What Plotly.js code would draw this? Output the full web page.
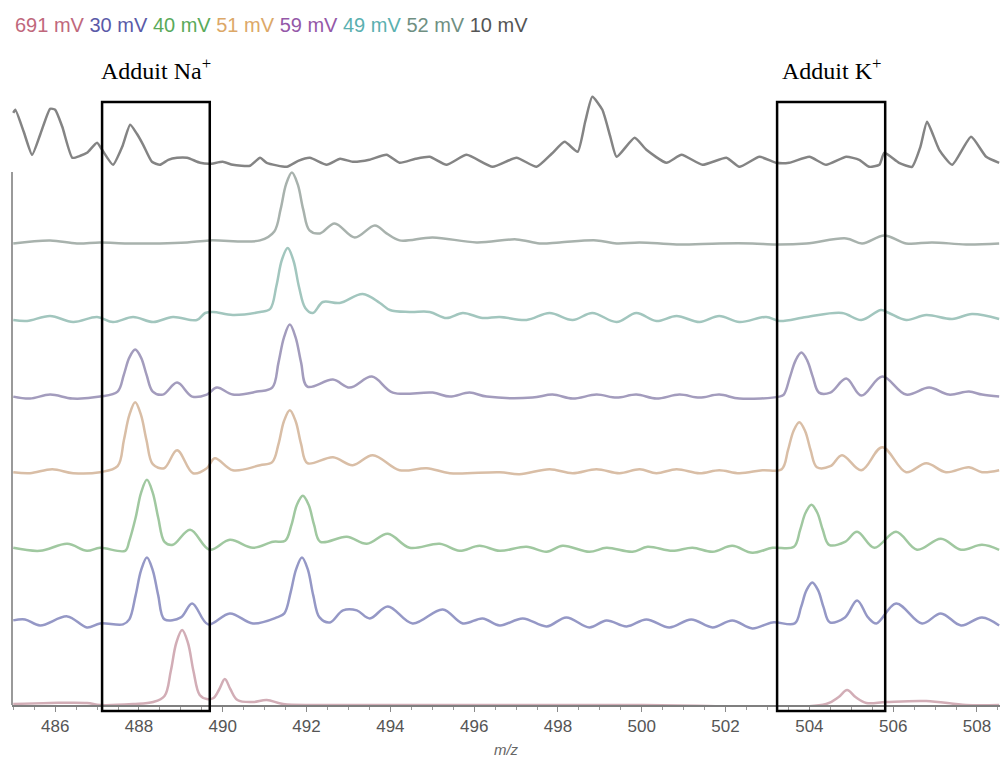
<!DOCTYPE html>
<html>
<head>
<meta charset="utf-8">
<script src="https://cdn.plot.ly/plotly-3.0.1.min.js"></script>
<style>html,body{margin:0;padding:0;background:#fff;}#chart{width:1001px;height:758px;}</style>
</head>
<body>
<div id="chart"></div>
<script>
// ---- data (m/z, relative intensity) ----
const seriesNames = ["691 mV", "30 mV", "40 mV", "51 mV", "59 mV", "49 mV", "52 mV", "10 mV"];

const mz691 = [485.00,485.88,486.76,487.07,487.86,488.34,488.61,488.76,488.89,489.03,
               489.17,489.30,489.45,489.62,489.78,489.92,490.05,490.18,490.35,490.72,
               491.05,491.44,492.25,496.00,500.00,504.40,504.70,504.90,505.10,505.36,
               505.83,506.79,507.74,508.53];
const int691 = [1,2,2,0,1,3,9,34,62,75,
                62,34,10,6,7,16,26,16,5,3,
                5,1,0,0,0,1,8,15,8,2,
                3,4,0,0];

const mz30 = [485.00,485.28,485.64,486.29,486.76,487.07,487.62,487.77,487.92,488.05,
              488.19,488.33,488.46,488.61,489.00,489.27,489.65,490.17,490.72,491.29,
              491.47,491.62,491.75,491.89,492.03,492.16,492.31,492.56,492.87,493.20,
              493.51,493.94,494.53,495.25,495.73,496.20,496.61,497.16,497.73,498.20,
              498.75,499.16,499.64,500.11,500.66,501.18,501.69,502.16,502.64,503.12,
              503.65,503.80,503.93,504.07,504.21,504.34,504.49,504.85,505.14,505.40,
              505.60,506.07,506.69,507.14,507.62,508.12,508.53];
const int30 = [7,8,2,11,0,4,3,8,32,57,
               70,57,32,8,10,24,3,14,4,10,
               14,35,58,70,58,32,10,5,17,17,
               9,21,4,18,4,9,2,9,1,10,
               0,7,1,8,0,8,0,7,-1,5,
               4,20,37,45,37,20,5,10,27,10,
               4,24,4,14,2,10,2];

const mz40 = [485.00,485.64,486.29,486.76,487.07,487.67,487.77,487.92,488.05,488.19,
              488.33,488.46,488.61,488.81,489.22,489.69,490.17,490.72,491.20,491.49,
              491.64,491.77,491.91,492.05,492.18,492.33,492.96,493.44,493.94,494.46,
              495.18,495.65,496.13,496.61,497.25,497.73,498.11,498.75,499.16,499.78,
              500.14,500.73,501.21,501.69,502.16,502.64,503.12,503.63,503.78,503.91,
              504.05,504.19,504.32,504.47,504.85,505.14,505.55,506.07,506.57,507.14,
              507.62,508.12,508.53];
const int40 = [2,-1,6,-1,2,-1,9,32,57,70,
               57,32,8,5,20,0,10,2,8,9,
               25,45,54,45,25,8,13,6,16,2,
               6,-1,4,-1,3,-2,4,-2,2,-2,
               3,-1,2,-2,4,-3,2,3,20,37,
               45,37,20,5,8,18,2,18,0,11,
               0,5,0];

const mz51 = [485.00,485.40,485.93,486.43,487.07,487.49,487.64,487.77,487.91,488.05,
              488.18,488.33,488.60,488.91,489.29,489.62,489.81,490.24,490.89,491.18,
              491.33,491.46,491.60,491.74,491.87,492.02,492.63,493.10,493.58,494.22,
              494.87,495.42,496.61,497.08,497.80,498.35,498.92,499.47,499.95,500.35,
              500.83,501.38,501.85,502.33,502.88,503.34,503.49,503.62,503.76,503.90,
              504.03,504.18,504.50,504.78,505.24,505.74,506.31,506.79,507.26,507.81,
              508.12,508.53];
const int51 = [0,-1,3,-1,0,6,32,57,70,57,
               32,8,4,22,-1,4,14,2,7,10,
               28,51,62,51,28,9,15,7,17,2,
               4,-1,0,-2,3,-1,3,-1,3,-1,
               3,-1,2,-1,2,3,22,41,50,41,
               22,5,6,17,2,25,0,9,0,5,
               0,2];

const mz59 = [485.00,485.40,485.88,486.41,487.07,487.49,487.64,487.77,487.91,488.05,
              488.18,488.33,488.57,488.91,489.27,489.62,489.86,490.24,490.82,491.18,
              491.33,491.46,491.60,491.74,491.87,492.02,492.63,493.03,493.56,494.06,
              495.01,495.42,495.89,496.30,497.39,497.87,498.35,498.92,499.40,499.87,
              500.35,500.90,501.38,501.85,502.33,503.28,503.39,503.54,503.67,503.81,
              503.95,504.08,504.23,504.50,504.88,505.24,505.74,506.31,506.86,507.33,
              507.81,508.12,508.53];
const int59 = [-2,-4,0,-4,-2,3,20,37,45,37,
               20,3,0,12,-2,0,7,0,3,7,
               32,57,70,57,32,8,15,7,18,2,
               2,-2,2,-2,-3,0,-4,0,-3,0,
               -4,0,-3,0,-4,-2,0,18,34,42,
               34,18,2,2,16,-1,18,0,7,0,
               3,0,-2];

const mz49 = [485.00,485.33,485.88,486.43,487.00,487.38,487.86,488.34,488.81,489.38,
              489.58,489.77,490.24,490.89,491.13,491.28,491.41,491.55,491.69,491.82,
              491.97,492.15,492.39,492.79,493.34,493.75,493.99,494.46,494.94,495.34,
              495.73,496.20,496.61,497.25,497.80,498.35,498.82,499.40,499.87,500.35,
              500.83,501.38,501.85,502.33,502.97,503.28,503.93,504.78,505.24,505.71,
              505.90,506.31,506.79,507.41,507.88,508.53];
const int49 = [-3,-4,1,-5,0,-5,0,-5,0,-3,
               4,5,2,5,8,31,57,69,56,30,
               9,4,15,14,23,14,7,5,5,-1,
               4,-1,0,-3,4,-3,4,-5,4,-4,
               1,-5,1,-5,0,-4,0,4,-3,7,
               4,-3,2,-2,3,-2];

const mz52 = [485.00,485.88,486.52,487.07,487.72,488.50,489.15,489.69,490.89,491.23,
              491.38,491.51,491.65,491.79,491.92,492.07,492.32,492.67,493.15,493.63,
              493.91,494.22,495.01,496.06,497.01,497.56,498.04,498.92,499.40,499.95,
              500.83,501.85,502.64,503.21,503.93,504.88,505.26,505.79,506.31,506.93,
              507.74,508.53];
const int52 = [-4,-1,-4,-3,-4,-4,-3,-1,-1,8,
               30,55,67,55,30,9,6,16,2,14,
               6,-1,2,-3,0,-4,-3,-1,-4,-3,
               -5,-4,-4,-5,-4,1,-4,4,-4,-3,
               -5,-4];

const mz10 = [485.00,485.05,485.25,485.45,485.65,485.88,486.00,486.17,486.41,486.60,
              486.76,487.00,487.12,487.38,487.60,487.79,487.95,488.10,488.31,488.50,
              488.70,488.91,489.15,489.46,489.69,490.00,490.24,490.65,490.89,491.05,
              491.53,491.80,492.08,492.48,492.80,493.10,493.50,493.91,494.22,494.60,
              494.94,495.34,495.82,496.44,497.01,497.49,497.85,498.16,498.47,498.65,
              498.82,499.06,499.25,499.40,499.83,500.11,500.59,500.95,501.45,502.02,
              502.33,502.81,503.21,503.52,504.00,504.40,504.88,505.19,505.43,505.67,
              505.79,506.14,506.45,506.65,506.81,507.10,507.41,507.86,508.22,508.53];
const int10 = [49,52,30,7,28,53,52,35,4,6,
               9,19,12,-3,15,37,28,17,0,-3,
               2,4,4,-1,-2,0,-3,-4,4,-1,
               -5,1,4,-3,3,0,2,7,-1,3,
               5,-3,7,-5,4,-5,8,20,10,40,
               65,52,25,5,24,12,-1,7,-3,4,
               -5,5,-1,-1,5,-3,5,2,-5,-3,
               9,-1,-5,15,40,12,-3,25,5,-1];

const boxNa = [487.12, 489.69];
const boxK  = [503.23, 505.81];

// ---- styling ----
const lineColors = ["#d2adb6", "#9598c6", "#a0c8a0", "#d9bea6", "#a39cbd", "#a2c6be", "#a8b2ad", "#848484"];
const labelColors = ["#c0687c", "#5a5aa8", "#5aaa5a", "#dca868", "#9458a8", "#5ab0b0", "#6f8f82", "#555555"];
const stackGap = 77.6;

const allMz = [mz691, mz30, mz40, mz51, mz59, mz49, mz52, mz10];
const allInt = [int691, int30, int40, int51, int59, int49, int52, int10];

const traces = allMz.map((mz, i) => ({
  type: "scatter",
  mode: "lines",
  name: seriesNames[i],
  x: mz,
  y: allInt[i].map(v => v + i * stackGap),
  line: {color: lineColors[i], width: 2.5, shape: "spline", smoothing: i === 7 ? 0.5 : 1},
  hoverinfo: "skip",
  showlegend: false
}));

const legendText = seriesNames.map((n, i) => `<span style="color:${labelColors[i]}">${n}</span>`).join(" ");

const layout = {
  width: 1001, height: 758,
  margin: {l: 12, r: 1, t: 80, b: 53},
  paper_bgcolor: "#ffffff", plot_bgcolor: "#ffffff",
  showlegend: false,
  xaxis: {
    range: [484.97, 508.55],
    tick0: 486, dtick: 2,
    showgrid: false, zeroline: false,
    showline: true, linecolor: "#7f7f7f", linewidth: 2,
    ticks: "outside", ticklen: 5, tickcolor: "#8a8a8a", tickwidth: 1,
    minor: {dtick: 0.5, ticks: "outside", ticklen: 3, tickcolor: "#9a9a9a", showgrid: false},
    tickfont: {family: "Liberation Sans, Arial, sans-serif", size: 17, color: "#555555"},
    title: {text: "<i>m/z</i>", font: {family: "Liberation Sans, Arial, sans-serif", size: 15, color: "#666666"}, standoff: 10}
  },
  yaxis: {
    range: [0, 625],
    showgrid: false, zeroline: false, showline: false,
    showticklabels: false, ticks: ""
  },
  shapes: [
    {type: "line", xref: "paper", yref: "paper", x0: 0, x1: 0, y0: 0, y1: (705 - 172) / 625,
     line: {color: "#9a9a9a", width: 2}},
    {type: "rect", xref: "x", yref: "paper", x0: boxNa[0], x1: boxNa[1], y0: -6 / 625, y1: 603 / 625,
     line: {color: "#000000", width: 2.5}, fillcolor: "rgba(0,0,0,0)"},
    {type: "rect", xref: "x", yref: "paper", x0: boxK[0], x1: boxK[1], y0: -6 / 625, y1: 603 / 625,
     line: {color: "#000000", width: 2.5}, fillcolor: "rgba(0,0,0,0)"}
  ],
  annotations: [
    {text: legendText, xref: "paper", yref: "paper", x: 1 / 988, y: (705 - 25) / 625,
     xanchor: "left", yanchor: "middle", showarrow: false,
     font: {family: "Liberation Sans, Arial, sans-serif", size: 20}},
    {text: "Adduit Na<sup>+</sup>", xref: "x", yref: "paper", x: (boxNa[0] + boxNa[1]) / 2, y: (705 - 86) / 625,
     xanchor: "center", yanchor: "bottom", showarrow: false,
     font: {family: "Liberation Serif, Times New Roman, serif", size: 24, color: "#000000"}},
    {text: "Adduit K<sup>+</sup>", xref: "x", yref: "paper", x: (boxK[0] + boxK[1]) / 2, y: (705 - 86) / 625,
     xanchor: "center", yanchor: "bottom", showarrow: false,
     font: {family: "Liberation Serif, Times New Roman, serif", size: 24, color: "#000000"}}
  ]
};

Plotly.newPlot("chart", traces, layout, {staticPlot: true, displayModeBar: false});
</script>
</body>
</html>
